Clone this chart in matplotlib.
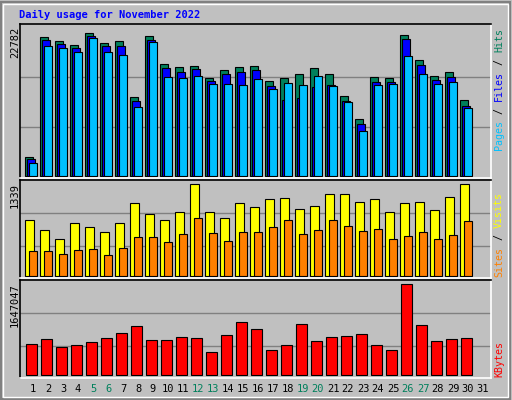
import matplotlib
matplotlib.use("Agg")
from matplotlib import pyplot as plt
from matplotlib.patches import Rectangle

days = list(range(1, 31))
hits = [2952, 21591, 20969, 20348, 22264, 20658, 20969, 12268, 21747, 17345,
        16879, 17035, 15171, 16413, 16879, 17035, 14705, 15171, 15792, 16724,
        15792, 12423, 8850, 15326, 15171, 21954, 17967, 15481, 16103, 11802]
files = [2590, 21125, 20503, 19882, 21799, 20193, 20193, 11647, 21125, 16724,
         16103, 16568, 14705, 15792, 16103, 16413, 13928, 11802, 12113, 13773,
         14084, 11647, 8073, 14550, 14550, 21228, 17190, 14860, 15326, 10870]
pages = [2020, 20193, 19882, 19261, 21505, 19313, 18848, 10663, 20762, 15326,
         15171, 15481, 14239, 14239, 14084, 15015, 13462, 14394, 14084, 15481,
         13928, 11440, 6928, 14084, 14239, 18589, 15792, 14239, 14550, 10508]
visits = [818, 673, 542, 770, 712, 640, 770, 1061, 902, 818,
          931, 1339, 931, 844, 1061, 1003, 1120, 1135, 975, 1018,
          1193, 1193, 1077, 1120, 931, 1061, 1077, 960, 1149, 1339]
sites = [368, 368, 325, 383, 398, 310, 412, 572, 572, 499,
         616, 849, 630, 509, 644, 644, 717, 819, 616, 674,
         819, 732, 659, 688, 543, 587, 644, 543, 601, 805]
kbytes = [561876, 652372, 507579, 543778, 598076, 670471, 760967, 887661, 633273, 633273,
          687570, 669471, 416179, 724768, 959856, 832463, 453279, 543778, 923656, 615174,
          687570, 705669, 741868, 543778, 453279, 1647047, 905760, 615174, 651372, 669471]
weekend = [5, 6, 12, 13, 19, 20, 26, 27]

BG = "#C0C0C0"
fig = plt.figure(figsize=(5.12, 4.0), dpi=100, facecolor=BG)
W, H = 512.0, 400.0

def px_axes(x0, y0, x1, y1):
    return fig.add_axes([x0 / W, 1 - y1 / H, (x1 - x0) / W, (y1 - y0) / H])

def panel(y0, y1, base, topval_px, maxval, grid_px):
    ax = px_axes(20, y0, 491, y1)
    ax.set_facecolor(BG)
    scale = maxval / (base - topval_px)
    ax.set_ylim(-(y1 - base) * scale, (base - y0) * scale)
    ax.set_xlim((20 - 33) / 15 + 1, (491 - 33) / 15 + 1)
    for g in grid_px:
        ax.axhline((base - g) * scale, color="#808080", lw=1, zorder=0)
    ax.set_xticks([]); ax.set_yticks([])
    for s in ax.spines.values():
        s.set_color("white"); s.set_linewidth(1.2)
    ax.spines["left"].set_color("black"); ax.spines["top"].set_color("black")
    return ax

# top panel
ax1 = panel(24, 178, 176, 29.3, 22782, [76.7, 127.3])
ax1.bar([d - 0.51 for d in days], hits, width=0.49, align="edge", color="#00805C", edgecolor="black", lw=0.8)
ax1.bar([d - 0.38 for d in days], files, width=0.49, align="edge", color="#0000FF", edgecolor="black", lw=0.8)
ax1.bar([d - 0.25 for d in days], pages, width=0.49, align="edge", color="#00C0FF", edgecolor="black", lw=0.8)

# middle panel
ax2 = panel(180, 278, 276, 184.3, 1339, [213.3, 246])
ax2.bar([d - 0.51 for d in days], visits, width=0.55, align="edge", color="#FFFF00", edgecolor="black", lw=0.8)
ax2.bar([d - 0.25 for d in days], sites, width=0.49, align="edge", color="#FF8000", edgecolor="black", lw=0.8)

# bottom panel
ax3 = panel(280, 378, 375.3, 284.3, 1647047, [313, 346.3])
ax3.bar([d - 0.45 for d in days], kbytes, width=0.69, align="edge", color="#FF0000", edgecolor="black", lw=0.8)

mono = "DejaVu Sans Mono"
fig.text(19 / W, 1 - 15 / H, "Daily usage for November 2022", color="#0000FF",
         family=mono, weight="bold", fontsize=7.5, va="center")

for d in range(1, 32):
    fig.text((33 + 15 * (d - 1)) / W, 1 - 389 / H, str(d), ha="center", va="center",
             family=mono, fontsize=7.5, color="#00805C" if d in weekend else "black")

for y, lab in [(27, "22782"), (183, "1339"), (283, "1647047")]:
    fig.text(15 / W, 1 - y / H, lab, rotation=90, ha="center", va="top", family=mono, fontsize=7.5)

def side(parts, ybottom):
    y = ybottom
    for txt, col in parts:
        fig.text(499 / W, 1 - y / H, txt, rotation=90, ha="center", va="bottom",
                 family=mono, fontsize=7.2, color=col)
        y -= 6.1 * len(txt)

side([("Pages", "#00C0FF"), (" / ", "black"), ("Files", "#0000FF"), (" / ", "black"), ("Hits", "#00805C")], 150)
side([("Sites", "#FF8000"), (" / ", "black"), ("Visits", "#FFFF00")], 277)
side([("KBytes", "#FF0000")], 377)

# outer bevel
fig.patches.append(Rectangle((1 / W, 1 / H), 509 / W, 397 / H, transform=fig.transFigure,
                             fill=False, ec="#808080", lw=1.5))
fig.patches.append(Rectangle((3 / W, 3 / H), 505 / W, 393 / H, transform=fig.transFigure,
                             fill=False, ec="white", lw=1))

fig.savefig("out.png", dpi=100, facecolor=BG)
